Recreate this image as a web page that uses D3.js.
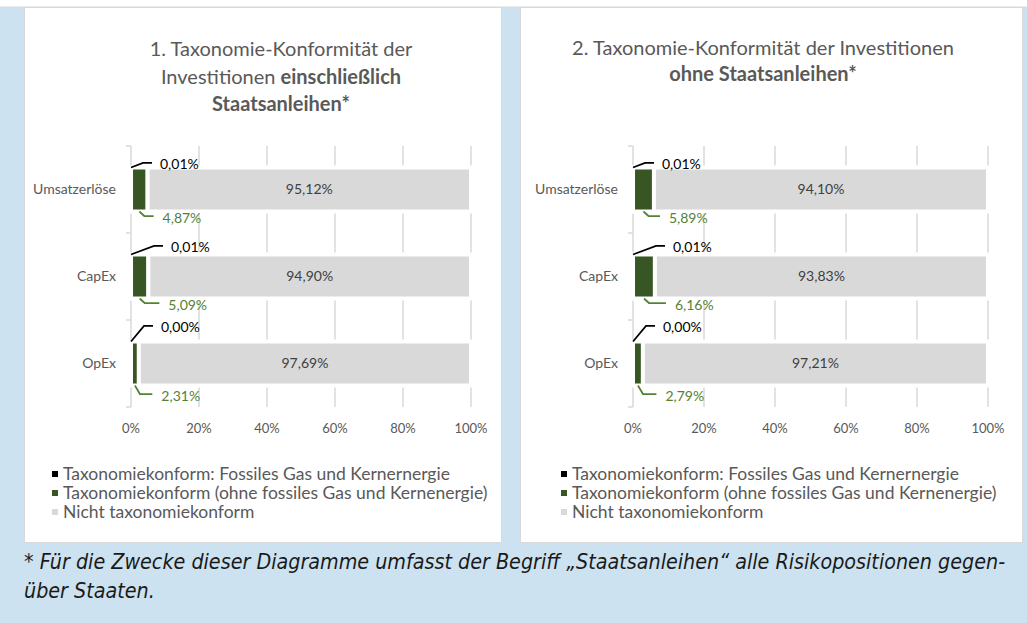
<!DOCTYPE html>
<html lang="de">
<head>
<meta charset="UTF-8">
<title>Taxonomie-Konformität</title>
<script src="https://cdnjs.cloudflare.com/ajax/libs/d3/7.8.5/d3.min.js"></script>
<style>
  body { margin: 0; background: #fff; }
  svg { display: block; font-family: Lato, "Open Sans", sans-serif; }
</style>
</head>
<body>
<div id="chart"></div>
<script>
// Data
const categories = ["Umsatzerlöse", "CapEx", "OpEx"];
const seriesNames = [
  "Taxonomiekonform: Fossiles Gas und Kernernergie",
  "Taxonomiekonform (ohne fossiles Gas und Kernenergie)",
  "Nicht taxonomiekonform"
];
const fossilWithSov = [0.01, 0.01, 0.00];
const alignedWithSov = [4.87, 5.09, 2.31];
const notAlignedWithSov = [95.12, 94.90, 97.69];
const fossilNoSov = [0.01, 0.01, 0.00];
const alignedNoSov = [5.89, 6.16, 2.79];
const notAlignedNoSov = [94.10, 93.83, 97.21];
const xTicks = [0, 20, 40, 60, 80, 100];
const footnoteLines = [
  "* Für die Zwecke dieser Diagramme umfasst der Begriff „Staatsanleihen“ alle Risikopositionen gegen-",
  "über Staaten."
];

// Layout
const width = 1027, height = 623;
const colors = ["#000000", "#375623", "#d9d9d9"];
const labelColors = ["#000000", "#548235", "#404040"];
const gridColor = "#d9d9d9";
const textGrey = "#595959";

// manual label offsets (Excel-style positioned labels), per category
const topLabelNudge = [[29, -5.5], [40, -9.5], [30, -16.5]];
const bottomLabelNudge = [[15, 8.5], [20, 8.5], [22.5, 12.5]];

const panels = [
  {
    box: [24, 7, 477, 535],
    plot: [131, 471],
    titleX: 281,
    title: [
      { y: 49, parts: [["1. Taxonomie-Konformität der", false]] },
      { y: 77, parts: [["Investitionen ", false], ["einschließlich", true]] },
      { y: 104, parts: [["Staatsanleihen*", true]] }
    ],
    series: [fossilWithSov, alignedWithSov, notAlignedWithSov],
    legendX: 63
  },
  {
    box: [520, 7, 502, 535],
    plot: [633, 988],
    titleX: 763,
    title: [
      { y: 48, parts: [["2. Taxonomie-Konformität der Investitionen", false]] },
      { y: 74, parts: [["ohne Staatsanleihen*", true]] }
    ],
    series: [fossilNoSov, alignedNoSov, notAlignedNoSov],
    legendX: 572
  }
];

const fmt = v => d3.format(".2f")(v).replace(".", ",") + "%";

const svg = d3.select("#chart").append("svg")
  .attr("width", width)
  .attr("height", height);

// background
svg.append("rect").attr("width", width).attr("height", height).attr("fill", "#fff");
svg.append("rect").attr("x", 0).attr("y", 7).attr("width", width).attr("height", height - 7)
  .attr("fill", "#cce2f0");
svg.append("line").attr("x1", 0).attr("x2", width).attr("y1", 7).attr("y2", 7)
  .attr("stroke", "#d9d9d9");

const plotTop = 146, plotBottom = 407;

panels.forEach(p => {
  const g = svg.append("g");

  g.append("rect")
    .attr("x", p.box[0] + 0.5).attr("y", p.box[1] + 0.5)
    .attr("width", p.box[2]).attr("height", p.box[3])
    .attr("fill", "#fff")
    .attr("stroke", "#d9d9d9");

  // title
  p.title.forEach(line => {
    const t = g.append("text")
      .attr("x", p.titleX).attr("y", line.y)
      .attr("dy", "0.35em")
      .attr("text-anchor", "middle")
      .attr("fill", textGrey)
      .style("font-size", "20px");
    line.parts.forEach(([s, bold]) => {
      t.append("tspan").text(s).style("font-weight", bold ? "bold" : "normal");
    });
  });

  const x = d3.scaleLinear().domain([0, 100]).range(p.plot);
  const y = d3.scaleBand().domain(categories)
    .range([plotTop, plotBottom])
    .paddingInner(0.494).paddingOuter(0.247);
  const step = y.step();

  // gridlines
  g.append("g").selectAll("line").data(xTicks.slice(1)).join("line")
    .attr("x1", d => x(d)).attr("x2", d => x(d))
    .attr("y1", plotTop).attr("y2", plotBottom)
    .attr("stroke", gridColor).attr("stroke-width", 1.5);

  // category axis
  const yAxis = g.append("g").attr("class", "y-axis");
  yAxis.append("line")
    .attr("x1", x(0)).attr("x2", x(0))
    .attr("y1", plotTop).attr("y2", plotBottom)
    .attr("stroke", gridColor).attr("stroke-width", 1.5);
  yAxis.selectAll("line.tick").data(d3.range(categories.length + 1)).join("line")
    .attr("class", "tick")
    .attr("x1", x(0) - 5).attr("x2", x(0))
    .attr("y1", i => plotTop + i * step).attr("y2", i => plotTop + i * step)
    .attr("stroke", gridColor).attr("stroke-width", 1.5);
  yAxis.selectAll("text").data(categories).join("text")
    .attr("x", x(0) - 15)
    .attr("y", d => y(d) + y.bandwidth() / 2)
    .attr("dy", "0.35em")
    .attr("text-anchor", "end")
    .attr("fill", textGrey)
    .style("font-size", "14px")
    .text(d => d);

  // x tick labels
  g.append("g").selectAll("text").data(xTicks).join("text")
    .attr("x", d => x(d))
    .attr("y", 428)
    .attr("dy", "0.35em")
    .attr("text-anchor", "middle")
    .attr("fill", textGrey)
    .style("font-size", "13px")
    .text(d => d + "%");

  // stacked bars
  const rows = categories.map((c, i) => {
    const vals = p.series.map(s => s[i]);
    let acc = 0;
    return vals.map((v, k) => {
      const seg = { cat: c, i, k, v, x0: acc, x1: acc + v };
      acc += v;
      return seg;
    });
  });

  g.append("g").selectAll("g").data(rows).join("g")
    .selectAll("rect").data(d => d).join("rect")
    .attr("x", d => x(d.x0))
    .attr("y", d => y(d.cat))
    .attr("width", d => Math.max(0, x(d.x1) - x(d.x0)))
    .attr("height", y.bandwidth())
    .attr("fill", d => colors[d.k])
    .attr("stroke", "#fff")
    .attr("stroke-width", 4);

  // labels
  const lab = g.append("g");
  rows.forEach((segs, i) => {
    const top = y(segs[0].cat) + 2;
    const bottom = y(segs[0].cat) + y.bandwidth() - 2;

    // fossil label (above, with leader)
    const f = segs[0];
    const tx = x(0) + topLabelNudge[i][0];
    const ty = top + topLabelNudge[i][1];
    lab.append("path")
      .attr("d", `M${x(0)},${top - 2}L${tx - 17},${ty - 1}L${tx - 8},${ty - 1}`)
      .attr("fill", "none").attr("stroke", labelColors[0]).attr("stroke-width", 1.75);
    lab.append("text")
      .attr("x", tx).attr("y", ty).attr("dy", "0.35em")
      .attr("fill", labelColors[0]).style("font-size", "14px")
      .text(fmt(f.v));

    // aligned label (below, with leader)
    const a = segs[1];
    const mid = (x(a.x0) + x(a.x1)) / 2;
    const bx = x(a.x1) + bottomLabelNudge[i][0];
    const by = bottom + bottomLabelNudge[i][1];
    lab.append("path")
      .attr("d", `M${mid},${bottom + 2}L${mid + 5},${by - 2}L${bx - 9},${by - 2}`)
      .attr("fill", "none").attr("stroke", labelColors[1]).attr("stroke-width", 1.75);
    lab.append("text")
      .attr("x", bx).attr("y", by).attr("dy", "0.35em")
      .attr("fill", labelColors[1]).style("font-size", "14px")
      .text(fmt(a.v));

    // not aligned label (centered)
    const n = segs[2];
    lab.append("text")
      .attr("x", (x(n.x0) + x(n.x1)) / 2)
      .attr("y", y(n.cat) + y.bandwidth() / 2).attr("dy", "0.35em")
      .attr("text-anchor", "middle")
      .attr("fill", labelColors[2]).style("font-size", "14px")
      .text(fmt(n.v));
  });

  // legend
  const leg = g.append("g").selectAll("g").data(seriesNames).join("g")
    .attr("transform", (d, i) => `translate(${p.legendX},${474 + i * 19})`);
  leg.append("rect")
    .attr("x", -11).attr("y", -3).attr("width", 6).attr("height", 6)
    .attr("fill", (d, i) => colors[i]);
  leg.append("text")
    .attr("dy", "0.35em")
    .attr("fill", textGrey)
    .style("font-size", "17.5px")
    .text(d => d);
});

// footnote
const foot = svg.append("g")
  .style("font-family", "'Liberation Sans Narrow', 'DejaVu Sans Condensed', 'Open Sans', sans-serif")
  .style("font-style", "italic")
  .attr("fill", "#1a1a1a");
foot.selectAll("text").data(footnoteLines).join("text")
  .attr("x", 24)
  .attr("y", (d, i) => 562 + i * 29)
  .attr("dy", "0.35em")
  .style("font-size", "18px")
  .text(d => d);
// size the first line to the column width like the justified source text
const first = foot.select("text").node();
const target = 981;
const w = first.getComputedTextLength();
if (w > 0) {
  const fs = Math.min(24, 18 * target / w);
  foot.selectAll("text").style("font-size", fs.toFixed(2) + "px");
}
</script>
</body>
</html>
